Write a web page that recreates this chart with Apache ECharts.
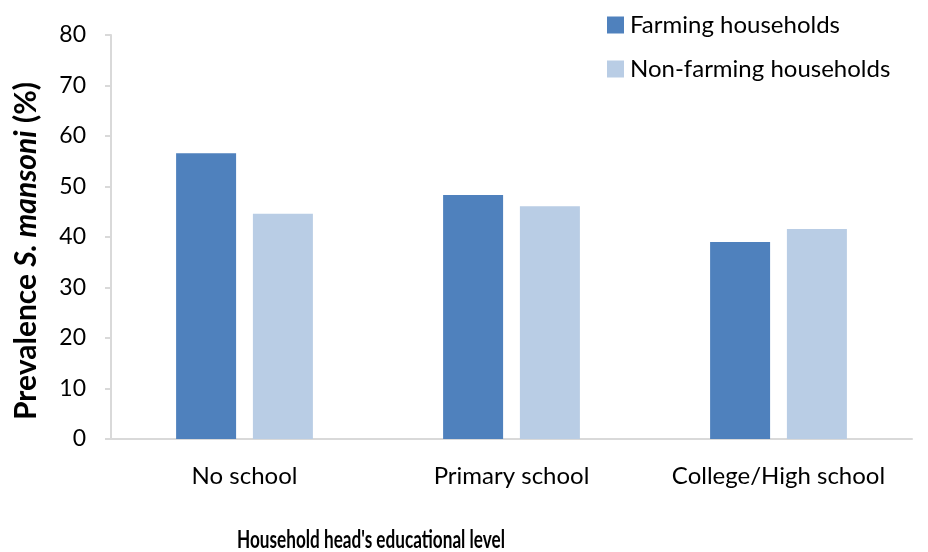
<!DOCTYPE html>
<html>
<head>
<meta charset="utf-8">
<script src="https://cdn.jsdelivr.net/npm/echarts@6/dist/echarts.min.js"></script>
<style>html,body{margin:0;padding:0;background:#fff}#c{width:928px;height:552px}</style>
</head>
<body>
<div id="c"></div>
<script>
const categories = ["No school", "Primary school", "College/High school"];
const farming = [56.6, 48.3, 39.0];
const nonFarming = [44.6, 46.1, 41.6];
const yTicks = [0, 10, 20, 30, 40, 50, 60, 70, 80];
const seriesNames = ["Farming households", "Non-farming households"];

const FONT = "Lato";
const chart = echarts.init(document.getElementById('c'), null, {renderer: 'canvas'});
chart.setOption({
  animation: false,
  backgroundColor: '#fff',
  textStyle: {fontFamily: FONT},
  grid: {left: 111, right: 16, top: 35, bottom: 113, containLabel: false},
  legend: {
    orient: 'vertical', left: 602, top: 8,
    itemWidth: 17, itemHeight: 17, itemGap: 20,
    icon: 'rect',
    textStyle: {fontFamily: FONT, fontSize: 24, lineHeight: 20, color: '#000', padding: [0, 0, 0, 1]},
    data: seriesNames
  },
  xAxis: {
    type: 'category', data: categories,
    axisLine: {lineStyle: {color: '#D9D9D9', width: 2}},
    axisTick: {show: false},
    axisLabel: {fontFamily: FONT, fontSize: 24, color: '#000', margin: 25, interval: 0}
  },
  yAxis: {
    type: 'value', min: yTicks[0], max: yTicks[yTicks.length - 1], interval: 10,
    axisLine: {show: true, lineStyle: {color: '#D9D9D9', width: 2}},
    axisTick: {show: true, length: 6, lineStyle: {color: '#D9D9D9', width: 2}},
    splitLine: {show: false},
    axisLabel: {fontFamily: FONT, fontSize: 23, color: '#000', margin: 25}
  },
  graphic: [
    {
      type: 'text', x: 26, y: 251, rotation: Math.PI / 2,
      style: {
        text: '{b|Prevalence }{i|S. mansoni}{b| (%)}',
        align: 'center', verticalAlign: 'middle',
        rich: {
          b: {fontFamily: FONT, fontSize: 30, fontWeight: 'bold', fill: '#000', color: '#000'},
          i: {fontFamily: FONT, fontSize: 30, fontWeight: 'bold', fontStyle: 'italic', fill: '#000', color: '#000'}
        }
      }
    },
    {
      type: 'text', x: 371, y: 540, scaleX: 0.715,
      style: {
        text: "Household head's educational level",
        align: 'center', verticalAlign: 'middle',
        fontFamily: FONT, fontSize: 24, fontWeight: 'bold', fill: '#000'
      }
    }
  ],
  series: [
    {name: seriesNames[0], type: 'bar', data: farming, barWidth: 60, barGap: '28%',
     itemStyle: {color: '#4F81BD'}},
    {name: seriesNames[1], type: 'bar', data: nonFarming, barWidth: 60, barGap: '28%',
     itemStyle: {color: '#B9CDE5'}}
  ]
});
</script>
</body>
</html>
